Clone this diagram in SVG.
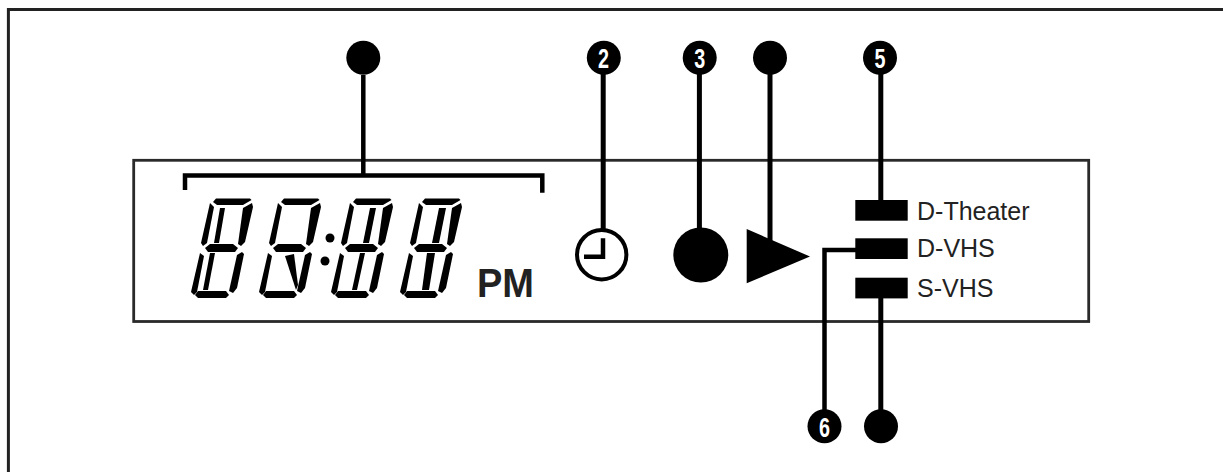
<svg xmlns="http://www.w3.org/2000/svg" width="1223" height="472" viewBox="0 0 1223 472">
<style>
.ln{fill:none;stroke:#000;stroke-width:5}
.thin{fill:none;stroke:#000;stroke-width:4.500}
.dot{fill:#000}
.num{font-family:"Liberation Sans",Arial,sans-serif;font-weight:bold;font-size:28px;fill:#fff;text-anchor:middle}
.lab{font-family:"Liberation Sans",Arial,sans-serif;font-size:25px;fill:#222}
.seg{fill:#000}
</style>
<defs>
<g id="digit">
<polygon class="seg" points="216,198.500 250,198.500 251.500,200 243,205 217,205 213,202"/>
<polygon class="seg" points="210,203 214,207 207,243 203,246 201,243"/>
<polygon class="seg" points="252,203 253,207 245,242 241,246 238,244 243,208"/>
<polygon class="seg" points="205,248 210,244 233,244 238,248 235,252 208,252"/>
<polygon class="seg" points="200,253 204,256 197,292 194,295 191,292"/>
<polygon class="seg" points="242,252 244,254 237,288 233,293 229,291 237,255"/>
<polygon class="seg" points="198,291 226,291 229,295 226,298 198,298 195,295"/>
</g>
</defs>
<rect width="1223" height="472" fill="#fff"/>
<g id="frame"><path d="M8.400 472V9.500H1223" fill="none" stroke="#222" stroke-width="3"/></g>
<g id="display"><rect x="133.700" y="160.300" width="955" height="161.200" fill="none" stroke="#2a2a2a" stroke-width="2.800"/></g>
<g id="connectors">
<path class="thin" d="M185 190V175.500H542.300V192.700"/>
<path class="thin" d="M363.300 75V176"/>
<path class="ln" d="M603.200 60V230"/>
<path class="ln" d="M699.400 60V230"/>
<path class="ln" d="M770 60V242"/>
<path class="ln" d="M880.800 60V202"/>
<path class="thin" d="M856 250H824.500V420"/>
<path class="ln" d="M880.800 296V420"/>
</g>
<g id="digits">
<use href="#digit"/>
<use href="#digit" x="68"/>
<use href="#digit" x="140"/>
<use href="#digit" x="209"/>
<circle class="dot" cx="330" cy="238" r="4.500"/>
<circle class="dot" cx="325" cy="261" r="4.500"/>
<polygon class="seg" points="220,208 225,208 219,243 214,243"/>
<polygon class="seg" points="210,253 215,253 208,290 203,290"/>
<polygon class="seg" points="285,256 294,254 298,285 296,290"/>
<polygon class="seg" points="370,208 376,208 369,243 363,243"/>
<polygon class="seg" points="360,253 365,253 357,290 352,290"/>
<polygon class="seg" points="439,208 446,208 439,243 432,243"/>
<polygon class="seg" points="427,253 435,253 429,290 422,290"/>
</g>
<g id="pm"><text x="477" y="297" font-family="Liberation Sans,Arial,sans-serif" font-weight="bold" font-size="40" fill="#222" textLength="57" lengthAdjust="spacingAndGlyphs">PM</text></g>
<g id="clock"><circle cx="601.700" cy="254.700" r="24.700" fill="#fff" stroke="#000" stroke-width="4"/><path d="M603 238.300V256.700H584" fill="none" stroke="#000" stroke-width="4.500"/></g>
<g id="rec"><circle class="dot" cx="700.800" cy="255" r="27.500"/></g>
<g id="play"><polygon class="dot" points="746.700,229 810,256.500 746.700,283.300"/></g>
<g id="ind-dtheater"><rect x="855.300" y="200" width="52.400" height="20.700" class="dot"/><text class="lab" x="917" y="220">D-Theater</text></g>
<g id="ind-dvhs"><rect x="855.300" y="238.300" width="52.400" height="20.700" class="dot"/><text class="lab" x="917" y="257">D-VHS</text></g>
<g id="ind-svhs"><rect x="855.300" y="277.700" width="52.400" height="20.700" class="dot"/><text class="lab" x="917" y="296.500">S-VHS</text></g>
<g id="n1"><circle class="dot" cx="363.300" cy="57.700" r="17"/></g>
<g id="n2"><circle class="dot" cx="603.800" cy="57.700" r="17"/><text class="num" x="603.500" y="68" textLength="11" lengthAdjust="spacingAndGlyphs">2</text></g>
<g id="n3"><circle class="dot" cx="699.700" cy="57.700" r="17"/><text class="num" x="699.700" y="68" textLength="11" lengthAdjust="spacingAndGlyphs">3</text></g>
<g id="n4"><circle class="dot" cx="770" cy="57.700" r="17"/></g>
<g id="n5"><circle class="dot" cx="880" cy="57.700" r="17"/><text class="num" x="880" y="68" textLength="11" lengthAdjust="spacingAndGlyphs">5</text></g>
<g id="n6"><circle class="dot" cx="824.500" cy="426.300" r="17"/><text class="num" x="824.500" y="436.500" textLength="11" lengthAdjust="spacingAndGlyphs">6</text></g>
<g id="n7"><circle class="dot" cx="881" cy="426.300" r="17"/></g>
</svg>
